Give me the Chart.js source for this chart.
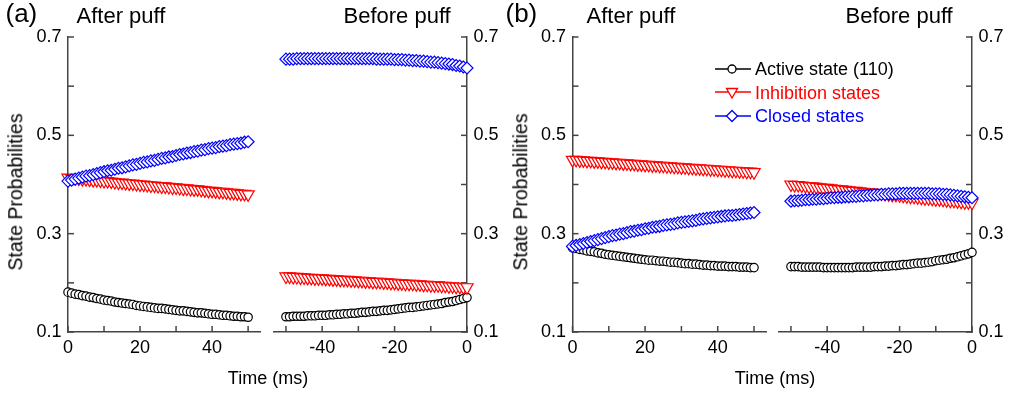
<!DOCTYPE html>
<html>
<head>
<meta charset="utf-8">
<title>State probabilities after and before puff</title>
<script src="https://cdn.jsdelivr.net/npm/chart.js@4.4.1/dist/chart.umd.min.js"></script>
<style>
  body { margin: 0; background: #fff; }
  #wrap { position: relative; width: 1009px; height: 397px; overflow: hidden; font-family: "Liberation Sans", Arial, sans-serif; color: #000; }
  #wrap canvas { position: absolute; left: 0; top: 0; }
  .txt { position: absolute; white-space: nowrap; line-height: 1; }
  .panel { font-size: 26px; }
  .head { font-size: 22px; }
  .xtitle { font-size: 18px; width: 200px; text-align: center; }
  .ytitle { font-size: 19.5px; transform: translate(-50%, -50%) rotate(-90deg); }
  .leg { font-size: 18px; }
  .sym { position: absolute; }
</style>
</head>
<body>
<div id="wrap">
  <canvas id="aAfter" width="1009" height="397"></canvas>
  <canvas id="aBefore" width="1009" height="397"></canvas>
  <canvas id="bAfter" width="1009" height="397"></canvas>
  <canvas id="bBefore" width="1009" height="397"></canvas>

  <div class="txt panel" style="left:5.5px;top:0px;">(a)</div>
  <div class="txt head" style="left:76.5px;top:4.7px;">After puff</div>
  <div class="txt head" style="left:343.5px;top:4.7px;">Before puff</div>
  <div class="txt panel" style="left:505.5px;top:0px;">(b)</div>
  <div class="txt head" style="left:586.5px;top:4.7px;">After puff</div>
  <div class="txt head" style="left:845.5px;top:4.7px;">Before puff</div>

  <div class="txt ytitle" style="left:16px;top:192px;">State Probabilities</div>
  <div class="txt ytitle" style="left:520.5px;top:192px;">State Probabilities</div>
  <div class="txt xtitle" style="left:168px;top:369px;">Time (ms)</div>
  <div class="txt xtitle" style="left:675px;top:369px;">Time (ms)</div>

  <!-- legend of panel (b) -->
  <svg class="sym" style="left:715px;top:62px;" width="36" height="14">
    <line x1="0" y1="7" x2="36" y2="7" stroke="#000" stroke-width="1.5"/>
    <circle cx="17" cy="7" r="4" fill="#fff" stroke="#000" stroke-width="1.3"/>
  </svg>
  <div class="txt leg" style="left:755px;top:60.2px;color:#000;">Active state (110)</div>
  <svg class="sym" style="left:715px;top:85.3px;" width="36" height="14">
    <line x1="0" y1="7" x2="36" y2="7" stroke="#ff0000" stroke-width="1.5"/>
    <polygon points="11.5,3.5 22.5,3.5 17,13" fill="#fff" stroke="#ff0000" stroke-width="1.3"/>
  </svg>
  <div class="txt leg" style="left:755px;top:83.5px;color:#ff0000;">Inhibition states</div>
  <svg class="sym" style="left:715px;top:108.7px;" width="36" height="14">
    <line x1="0" y1="7" x2="36" y2="7" stroke="#0000ff" stroke-width="1.5"/>
    <polygon points="17,1.5 22.5,7 17,12.5 11.5,7" fill="#fff" stroke="#0000ff" stroke-width="1.3"/>
  </svg>
  <div class="txt leg" style="left:755px;top:106.9px;color:#0000ff;">Closed states</div>
</div>

<script>
'use strict';

//time axes (ms)
var tAfter = [0, 1, 2, 3, 4, 5, 6, 7, 8, 9, 10, 11, 12, 13, 14, 15, 16, 17, 18, 19, 20,
  21, 22, 23, 24, 25, 26, 27, 28, 29, 30, 31, 32, 33, 34, 35, 36, 37, 38, 39, 40,
  41, 42, 43, 44, 45, 46, 47, 48, 49, 50];
var tBefore = [-50, -49, -48, -47, -46, -45, -44, -43, -42, -41, -40, -39, -38, -37, -36, -35,
  -34, -33, -32, -31, -30, -29, -28, -27, -26, -25, -24, -23, -22, -21, -20, -19, -18, -17,
  -16, -15, -14, -13, -12, -11, -10, -9, -8, -7, -6, -5, -4, -3, -2, -1, 0];

//panel (a), after puff
var aAfterActive = [0.181, 0.179, 0.177, 0.176, 0.174, 0.173, 0.171, 0.170, 0.168, 0.167, 0.165,
  0.164, 0.163, 0.161, 0.160, 0.159, 0.158, 0.157, 0.156, 0.154, 0.153,
  0.152, 0.151, 0.150, 0.149, 0.148, 0.148, 0.147, 0.146, 0.145, 0.144,
  0.143, 0.143, 0.142, 0.141, 0.140, 0.139, 0.139, 0.138, 0.137, 0.136,
  0.136, 0.135, 0.134, 0.134, 0.133, 0.132, 0.132, 0.131, 0.131, 0.130];
var aAfterInhib = [0.414, 0.413, 0.413, 0.412, 0.411, 0.411, 0.410, 0.409, 0.409, 0.408, 0.407,
  0.407, 0.406, 0.405, 0.404, 0.404, 0.403, 0.402, 0.402, 0.401, 0.400,
  0.400, 0.399, 0.398, 0.398, 0.397, 0.396, 0.396, 0.395, 0.394, 0.394,
  0.393, 0.392, 0.392, 0.391, 0.390, 0.390, 0.389, 0.388, 0.387, 0.387,
  0.386, 0.385, 0.385, 0.384, 0.383, 0.383, 0.382, 0.381, 0.381, 0.380];
var aAfterClosed = [0.407, 0.409, 0.411, 0.413, 0.415, 0.417, 0.418, 0.420, 0.422, 0.424, 0.426,
  0.428, 0.429, 0.431, 0.433, 0.434, 0.436, 0.438, 0.440, 0.441, 0.443,
  0.445, 0.446, 0.448, 0.449, 0.451, 0.453, 0.454, 0.456, 0.457, 0.459,
  0.461, 0.462, 0.464, 0.465, 0.467, 0.468, 0.470, 0.471, 0.473, 0.474,
  0.475, 0.477, 0.478, 0.479, 0.481, 0.482, 0.483, 0.484, 0.486, 0.487];

//panel (a), before puff
var aBeforeActive = [0.131, 0.131, 0.132, 0.132, 0.132, 0.132, 0.133, 0.133, 0.133, 0.134, 0.134,
  0.134, 0.135, 0.135, 0.136, 0.136, 0.137, 0.137, 0.138, 0.138, 0.139,
  0.140, 0.140, 0.141, 0.142, 0.142, 0.143, 0.144, 0.144, 0.145, 0.146,
  0.147, 0.148, 0.149, 0.150, 0.150, 0.151, 0.152, 0.153, 0.154, 0.155,
  0.156, 0.157, 0.158, 0.160, 0.161, 0.162, 0.164, 0.166, 0.168, 0.170];
var aBeforeInhib = [0.213, 0.213, 0.212, 0.212, 0.211, 0.211, 0.210, 0.210, 0.209, 0.209, 0.209,
  0.208, 0.208, 0.207, 0.207, 0.206, 0.206, 0.206, 0.205, 0.205, 0.204,
  0.204, 0.203, 0.203, 0.202, 0.202, 0.202, 0.201, 0.201, 0.200, 0.200,
  0.199, 0.199, 0.198, 0.198, 0.198, 0.197, 0.197, 0.196, 0.196, 0.195,
  0.195, 0.195, 0.194, 0.194, 0.193, 0.193, 0.192, 0.192, 0.191, 0.191];
var aBeforeClosed = [0.655, 0.655, 0.655, 0.656, 0.656, 0.656, 0.656, 0.656, 0.656, 0.656, 0.656,
  0.656, 0.656, 0.656, 0.656, 0.656, 0.656, 0.656, 0.656, 0.656, 0.656,
  0.656, 0.656, 0.656, 0.656, 0.655, 0.655, 0.655, 0.655, 0.655, 0.654,
  0.654, 0.654, 0.653, 0.653, 0.652, 0.652, 0.651, 0.651, 0.650, 0.649,
  0.649, 0.648, 0.647, 0.646, 0.645, 0.644, 0.642, 0.641, 0.639, 0.637];

//panel (b), after puff
var bAfterActive = [0.271, 0.270, 0.268, 0.267, 0.265, 0.264, 0.263, 0.261, 0.260, 0.258, 0.257,
  0.256, 0.255, 0.254, 0.253, 0.252, 0.251, 0.250, 0.249, 0.248, 0.247,
  0.246, 0.246, 0.245, 0.244, 0.244, 0.243, 0.242, 0.242, 0.241, 0.240,
  0.239, 0.239, 0.238, 0.238, 0.237, 0.236, 0.236, 0.235, 0.235, 0.234,
  0.234, 0.234, 0.233, 0.233, 0.233, 0.232, 0.232, 0.232, 0.231, 0.231];
var bAfterInhib = [0.450, 0.450, 0.449, 0.449, 0.448, 0.448, 0.447, 0.447, 0.446, 0.446, 0.445,
  0.445, 0.444, 0.444, 0.443, 0.443, 0.442, 0.442, 0.441, 0.441, 0.440,
  0.440, 0.439, 0.439, 0.438, 0.438, 0.437, 0.437, 0.436, 0.436, 0.435,
  0.435, 0.434, 0.434, 0.433, 0.433, 0.432, 0.432, 0.431, 0.431, 0.430,
  0.430, 0.429, 0.429, 0.428, 0.428, 0.427, 0.427, 0.426, 0.426, 0.425];
var bAfterClosed = [0.274, 0.276, 0.278, 0.280, 0.282, 0.284, 0.286, 0.288, 0.290, 0.292, 0.294,
  0.296, 0.297, 0.299, 0.300, 0.302, 0.304, 0.305, 0.307, 0.308, 0.310,
  0.311, 0.313, 0.314, 0.315, 0.317, 0.318, 0.319, 0.320, 0.322, 0.323,
  0.324, 0.325, 0.326, 0.327, 0.329, 0.330, 0.331, 0.332, 0.333, 0.334,
  0.335, 0.336, 0.337, 0.337, 0.338, 0.339, 0.340, 0.341, 0.342, 0.343];

//panel (b), before puff
var bBeforeActive = [0.233, 0.233, 0.233, 0.232, 0.232, 0.232, 0.232, 0.232, 0.232, 0.231, 0.231,
  0.231, 0.231, 0.231, 0.231, 0.231, 0.231, 0.231, 0.232, 0.232, 0.232,
  0.232, 0.232, 0.233, 0.233, 0.233, 0.234, 0.234, 0.235, 0.235, 0.236,
  0.237, 0.237, 0.238, 0.239, 0.240, 0.240, 0.241, 0.242, 0.243, 0.245,
  0.246, 0.247, 0.248, 0.250, 0.251, 0.253, 0.255, 0.257, 0.259, 0.262];
var bBeforeInhib = [0.400, 0.399, 0.399, 0.398, 0.397, 0.396, 0.396, 0.395, 0.394, 0.393, 0.393,
  0.392, 0.391, 0.390, 0.390, 0.389, 0.388, 0.387, 0.387, 0.386, 0.385,
  0.384, 0.384, 0.383, 0.382, 0.382, 0.381, 0.380, 0.379, 0.379, 0.378,
  0.377, 0.376, 0.375, 0.375, 0.374, 0.373, 0.372, 0.372, 0.371, 0.370,
  0.370, 0.369, 0.368, 0.367, 0.367, 0.366, 0.365, 0.364, 0.364, 0.363];
var bBeforeClosed = [0.366, 0.367, 0.367, 0.368, 0.369, 0.369, 0.370, 0.370, 0.371, 0.371, 0.372,
  0.373, 0.373, 0.374, 0.374, 0.375, 0.375, 0.376, 0.376, 0.377, 0.377,
  0.378, 0.378, 0.379, 0.379, 0.380, 0.380, 0.381, 0.381, 0.381, 0.382,
  0.382, 0.382, 0.382, 0.382, 0.382, 0.382, 0.382, 0.382, 0.381, 0.381,
  0.381, 0.380, 0.380, 0.379, 0.378, 0.377, 0.376, 0.375, 0.374, 0.373];

//ticks
var yTicks = [0.1, 0.2, 0.3, 0.4, 0.5, 0.6, 0.7];
var yLabeled = [0.1, 0.3, 0.5, 0.7];
var xTicksAfter = [0, 10, 20, 30, 40, 50];
var xLabeledAfter = [0, 20, 40];
var xTicksBefore = [-50, -40, -30, -20, -10, 0];
var xLabeledBefore = [-40, -20, 0];

var axisColor = '#444444';
var tickLen = 6;
var tickFont = { family: '"Liberation Sans", Arial, sans-serif', size: 18 };

//draws short tick marks pointing into the plot
var inwardTicks = {
  id: 'inwardTicks',
  beforeDatasetsDraw: function(chart) {
    var ctx = chart.ctx;
    ctx.save();
    ctx.strokeStyle = axisColor;
    ctx.lineWidth = 1.5;
    Object.keys(chart.scales).forEach(function(key) {
      var scale = chart.scales[key];
      scale.ticks.forEach(function(tick) {
        var p = scale.getPixelForValue(tick.value);
        ctx.beginPath();
        if (scale.axis === 'x') {
          ctx.moveTo(p, scale.top);
          ctx.lineTo(p, scale.top - tickLen);
        } else if (scale.position === 'left') {
          ctx.moveTo(scale.right, p);
          ctx.lineTo(scale.right + tickLen, p);
        } else {
          ctx.moveTo(scale.left, p);
          ctx.lineTo(scale.left - tickLen, p);
        }
        ctx.stroke();
      });
    });
    ctx.restore();
  }
};

function points(times, values) {
  return values.map(function(v, i) {
    return { x: times[i], y: v };
  });
}

function series(times, values, color, style, radius, rotation) {
  return {
    data: points(times, values),
    borderColor: color,
    borderWidth: 1.5,
    pointStyle: style,
    pointRadius: radius,
    pointRotation: rotation,
    pointBorderColor: color,
    pointBackgroundColor: '#ffffff',
    pointBorderWidth: 1.2,
    showLine: true,
    clip: false
  };
}

// pad = [left, right], yPos = 'left' or 'right'
function makeChart(id, times, active, inhib, closed, xMin, xMax, xTicks, xLabeled, pad, yPos, yWidth) {
  var ctx = document.getElementById(id).getContext('2d');
  return new Chart(ctx, {
    type: 'scatter',
    data: {
      //closed states first so they sit on top
      datasets: [
        series(times, closed, '#0000ff', 'rectRot', 6, 0),
        series(times, inhib, '#ff0000', 'triangle', 7, 180),
        series(times, active, '#000000', 'circle', 4.2, 0)
      ]
    },
    options: {
      responsive: false,
      animation: false,
      events: [],
      layout: { padding: { left: pad[0], right: pad[1], top: 37, bottom: 25 } },
      plugins: { legend: { display: false }, tooltip: { enabled: false } },
      scales: {
        x: {
          type: 'linear',
          min: xMin,
          max: xMax,
          afterBuildTicks: function(scale) {
            scale.ticks = xTicks.map(function(v) { return { value: v }; });
          },
          afterFit: function(scale) { scale.height = 40; },
          grid: { display: false, drawTicks: false },
          border: { display: true, color: axisColor, width: 1.5 },
          ticks: {
            autoSkip: false,
            maxRotation: 0,
            padding: 5,
            color: '#000',
            font: tickFont,
            callback: function(value) {
              return xLabeled.indexOf(value) >= 0 ? String(value) : '';
            }
          }
        },
        y: {
          type: 'linear',
          position: yPos,
          min: 0.1,
          max: 0.7,
          afterBuildTicks: function(scale) {
            scale.ticks = yTicks.map(function(v) { return { value: v }; });
          },
          afterFit: function(scale) { scale.width = yWidth; },
          grid: { display: false, drawTicks: false },
          border: { display: true, color: axisColor, width: 1.5 },
          ticks: {
            autoSkip: false,
            padding: 6.5,
            color: '#000',
            font: tickFont,
            callback: function(value) {
              return yLabeled.indexOf(value) >= 0 ? value.toFixed(1) : '';
            }
          }
        }
      }
    },
    plugins: [inwardTicks]
  });
}

makeChart('aAfter', tAfter, aAfterActive, aAfterInhib, aAfterClosed, 0, 53.3, xTicksAfter, xLabeledAfter, [8, 749], 'left', 60);
makeChart('aBefore', tBefore, aBeforeActive, aBeforeInhib, aBeforeClosed, -53.3, 0, xTicksBefore, xLabeledBefore, [274, 506], 'right', 36);
makeChart('bAfter', tAfter, bAfterActive, bAfterInhib, bAfterClosed, 0, 53.3, xTicksAfter, xLabeledAfter, [512.5, 243], 'left', 60);
makeChart('bBefore', tBefore, bBeforeActive, bBeforeInhib, bBeforeClosed, -53.3, 0, xTicksBefore, xLabeledBefore, [779, 1], 'right', 36);
</script>
</body>
</html>
